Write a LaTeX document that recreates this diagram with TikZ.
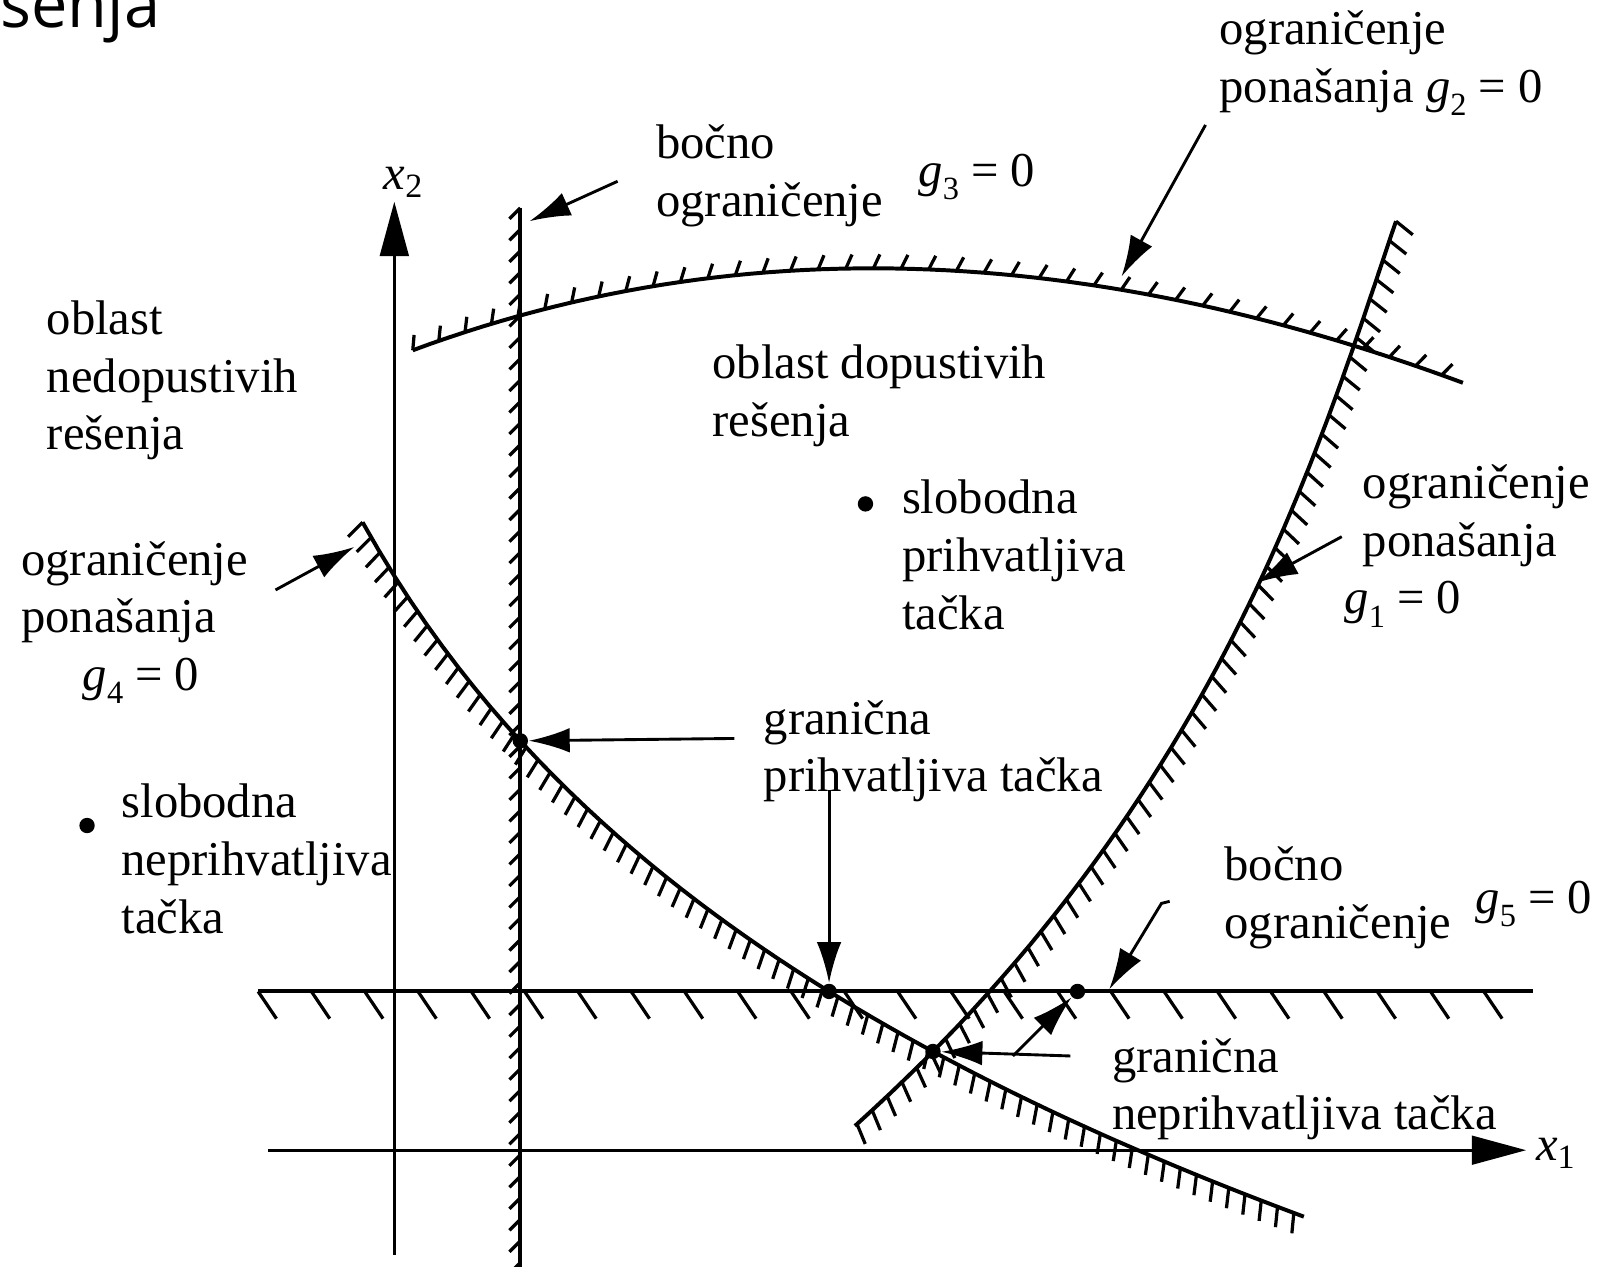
\documentclass[tikz,border=0pt]{standalone}
\usepackage{fontspec}
\setmainfont{Liberation Serif}
\newfontfamily\titlefont{Open Sans}
\usetikzlibrary{arrows.meta, positioning, calc, intersections, decorations.markings}
\newcommand{\cg}[1]{\textit{g}\raisebox{-0.6ex}{\small #1}}

\begin{document}
\begin{tikzpicture}[x=0.01cm, y=-0.01cm,
  font=\fontsize{13.5}{16}\selectfont,
  declare function={bez(\t,\a,\b,\c,\d)=(1-\t)^3*\a+3*\t*(1-\t)^2*\b+3*\t^2*(1-\t)*\c+\t^3*\d;},
  limit/.style={line width=1.1pt},
  hatch/.style n args={3}{postaction={decorate, decoration={markings,
      mark=between positions 0 and 1 step #1 with {\draw[line width=0.9pt] (0,0) -- (#2:#3);}}}},
  axis/.style={line width=0.8pt, -{Triangle[length=0.53cm, width=0.28cm]}},
  pointer/.style={line width=0.8pt, -{Latex[length=0.4cm, width=0.24cm]}},
  dot/.style={circle, fill, inner sep=0pt, minimum size=0.15cm},
  lbl/.style={align=left, inner sep=0pt, anchor=north west}]

  \useasboundingbox (0,0) rectangle (1568,1237);
  \clip (0,0) rectangle (1568,1237);

  % slide title, cut off
  \node[anchor=base east, inner sep=0pt, font=\titlefont\fontsize{18}{20}\selectfont] (title) at (157,27) {rešenja};

  % axes
  \draw[axis] (385,1225) -- (385,197);
  \draw[axis] (262,1123) -- (1490,1123);
  \node[anchor=base west, inner sep=0pt] (x2) at (374,185) {\textit{x}\textsubscript{2}};
  \node[anchor=base west, inner sep=0pt] (x1) at (1499,1133) {\textit{x}\textsubscript{1}};

  % constraints
  \draw[limit, name path=side3, hatch={0.21cm}{-45}{0.15cm}] (508,203) -- (508,1240);
  \draw[limit, name path=side5, hatch={0.52cm}{-56}{0.32cm}] (252,968) -- (1497,968);
  \draw[limit, name path=g2, hatch={0.27cm}{65}{0.15cm}] plot[domain=0:1, samples=60, variable=\t]
    ({bez(\t,403,743,1089,1429)}, {bez(\t,342,216,248,374)});
  \draw[limit, name path=g1, hatch={0.2cm}{70}{0.21cm}] plot[domain=0:1, samples=60, variable=\t]
    ({bez(\t,1363,1283,1185,834)}, {bez(\t,216,453,785,1100)});
  \draw[limit, name path=g4, hatch={0.17cm}{-75}{0.2cm}] plot[domain=354:1273, samples=60, variable=\x]
    ({\x}, {-1849.4+430.5*ln(\x-114)});

  \path[name intersections={of=side3 and g4, by=p-edge1}];
  \path[name intersections={of=side5 and g4, by=p-edge2}];
  \path[name intersections={of=g1 and g4, by=p-bad1}];

  % points
  \node[dot] (free1) at (85,806) {};
  \node[dot] (free2) at (845,492) {};
  \node[dot] (edge1) at (p-edge1) {};
  \node[dot] (edge2) at (p-edge2) {};
  \node[dot] (bad1) at (p-bad1) {};
  \node[dot] (bad2) at (1052,968) {};

  % labels
  \node[lbl] (infeas) at (45,293) {oblast\\nedopustivih\\rešenja};
  \node[lbl] (side3txt) at (640,121) {bočno\\ograničenje};
  \node[anchor=base west, inner sep=0pt] (g3) at (896,182) {\cg{3} = 0};
  \node[lbl] (beh2) at (1190,10) {ograničenje\\ponašanja \cg{2} = 0};
  \node[lbl] (feas) at (695,336) {oblast dopustivih\\rešenja};
  \node[lbl] (free2txt) at (880,468) {slobodna\\prihvatljiva\\tačka};
  \node[lbl] (beh1) at (1330,453) {ograničenje\\ponašanja\\\hspace*{-0.18cm}\cg{1} = 0};
  \node[lbl] (beh4) at (20,528) {ograničenje\\ponašanja\\\hspace*{0.6cm}\cg{4} = 0};
  \node[lbl] (edgetxt) at (745,683) {granična\\prihvatljiva tačka};
  \node[lbl] (free1txt) at (118,765) {slobodna\\neprihvatljiva\\tačka};
  \node[lbl] (side5txt) at (1195,826) {bočno\\ograničenje};
  \node[anchor=base west, inner sep=0pt] (g5) at (1440,892) {\cg{5} = 0};
  \node[lbl] (badtxt) at (1085,1013) {granična\\neprihvatljiva tačka};

  % pointers
  \coordinate (s1) at (603,177); \coordinate (e1) at (517,216);
  \coordinate (s2) at (1177,122); \coordinate (e2) at (1095,270);
  \coordinate (s3) at (269,576); \coordinate (e3) at (346,534);
  \coordinate (s4) at (1310,524); \coordinate (e4) at (1227,569);
  \coordinate (s5) at (717,721);
  \coordinate (lv) at (0,771); \coordinate (s6) at (edge2 |- lv);
  \coordinate (s7) at (1142,880); \coordinate (k7) at (1134,882); \coordinate (e7) at (1083,966);
  \coordinate (s8) at (1045,1031);
  \coordinate (s9) at (989,1031);

  \draw[pointer] (s1) -- (e1);
  \draw[pointer] (s2) -- (e2);
  \draw[pointer] (s3) -- (e3);
  \draw[pointer] (s4) -- (e4);
  \draw[pointer] (s5) -- (edge1);
  \draw[pointer] (s6) -- (edge2);
  \draw[pointer] (s7) -- (k7) -- (e7);
  \draw[pointer] (s8) -- (bad1);
  \draw[pointer] (s9) -- (bad2);
\end{tikzpicture}
\end{document}
